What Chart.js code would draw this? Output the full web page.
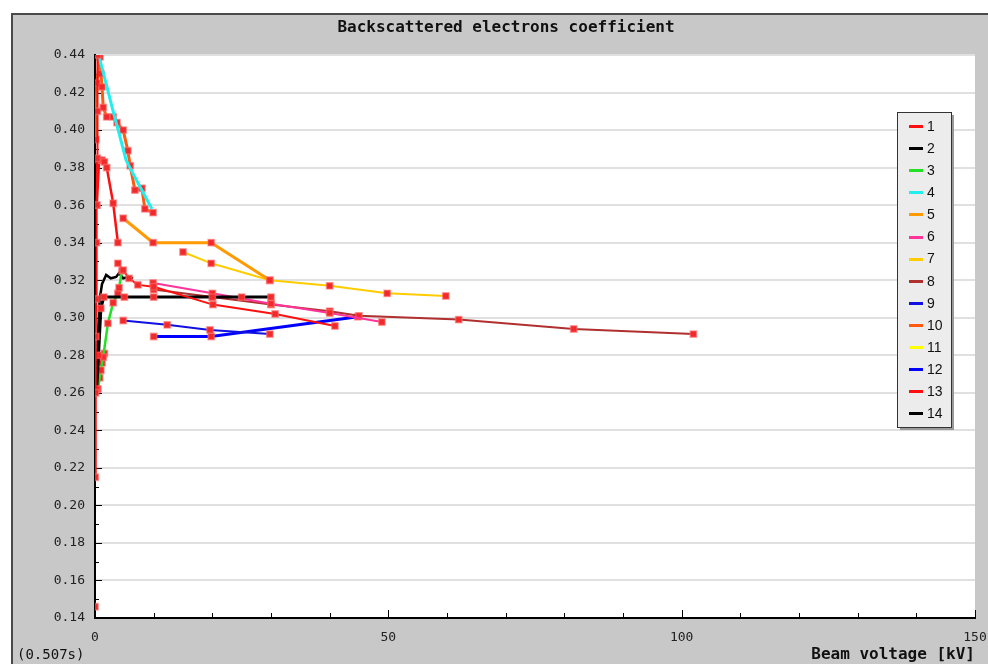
<!DOCTYPE html>
<html>
<head>
<meta charset="utf-8">
<script src="https://cdn.jsdelivr.net/npm/chart.js@4.4.0/dist/chart.umd.min.js"></script>
<style>
  html, body { margin: 0; padding: 0; background: #fff; }
  #wrap { width: 988px; height: 664px; }
</style>
</head>
<body>
<div id="wrap"><canvas id="c" width="988" height="664"></canvas></div>
<script>
// ---- data (beam voltage kV, backscatter coefficient) ----
const seriesNames = ['1','2','3','4','5','6','7','8','9','10','11','12','13','14'];
const yTicks = [0.14,0.16,0.18,0.20,0.22,0.24,0.26,0.28,0.30,0.32,0.34,0.36,0.38,0.40,0.42,0.44];
const xTicks = [0, 50, 100, 150];

const kv1  = [0, null, 0.05, 0.1, 0.15, 0.2, 0.25, 0.3, 0.35, 0.4, 0.45, null, 3.9, 4.8, 5.8, 7.3, 10, 20.1, 30.7, 40.9];
const eta1 = [0.146, null, 0.215, 0.26, 0.29, 0.31, 0.34, 0.36, 0.385, 0.41, 0.44, null, 0.329, 0.3254, 0.321, 0.3175, 0.3165, 0.307, 0.302, 0.2956];
const kv2  = [0.3, 0.6, 1.0, 1.5, 5, 10, 20, 25, 30];
const eta2 = [0.262, 0.28, 0.305, 0.311, 0.311, 0.311, 0.311, 0.311, 0.311];
const kv3  = [0.5, 1.0, 1.4, 2.2, 3.1, 3.9, 4.1, 4.6];
const eta3 = [0.262, 0.272, 0.279, 0.297, 0.308, 0.313, 0.316, 0.325];
const kv4  = [0.7, 2, 3, 4, 5.3, 7, 8.5, 9.7];
const eta4 = [0.439, 0.4235, 0.411, 0.3995, 0.384, 0.3737, 0.365, 0.358];
const kv5  = [4.8, 9.9, 19.8, 29.8];
const eta5 = [0.353, 0.34, 0.34, 0.32];
const kv6  = [9.9, 20, 30, 40, 48.9];
const eta6 = [0.3185, 0.313, 0.3075, 0.3025, 0.2977];
const kv7  = [15, 19.8, 29.8, 40, 49.8, 59.8];
const eta7 = [0.335, 0.329, 0.320, 0.317, 0.313, 0.3116];
const kv8  = [10, 20, 30, 40, 45, 62, 81.6, 102];
const eta8 = [0.315, 0.311, 0.307, 0.3035, 0.301, 0.299, 0.294, 0.2913];
const kv9  = [4.8, 12.3, 19.6, 29.8];
const eta9 = [0.2985, 0.2962, 0.2935, 0.2913];
const kv10  = [0.15, 0.3, 0.85, 1.0, 1.2, 1.4, 2.0, 3.1, 3.75, 4.8, 5.6, 6.0, 6.8, 8.0, 8.5, 9.9];
const eta10 = [0.395, 0.425, 0.439, 0.43, 0.423, 0.412, 0.407, 0.407, 0.404, 0.40, 0.389, 0.381, 0.368, 0.369, 0.358, 0.356];
const kv11  = [0.4, 0.8, 1.2, 1.6];
const eta11 = [0.27, 0.268, 0.276, 0.281];
const kv12  = [10, 19.8, 44.8];
const eta12 = [0.29, 0.29, 0.3005];
const kv13  = [0.3, 0.7, 1.2, 1.6, 2.0, 3.1, 3.9];
const eta13 = [0.36, 0.384, 0.384, 0.383, 0.38, 0.361, 0.34];
const kv14  = [0.2, 0.5, 0.8, 1.2, 1.9, 2.7, 3.6, 4.1, 4.8, 5.8, 6.5];
const eta14 = [0.262, 0.29, 0.31, 0.318, 0.3228, 0.321, 0.3217, 0.3238, 0.321, 0.3217, 0.321];

const allKv  = [kv1, kv2, kv3, kv4, kv5, kv6, kv7, kv8, kv9, kv10, kv11, kv12, kv13, kv14];
const allEta = [eta1, eta2, eta3, eta4, eta5, eta6, eta7, eta8, eta9, eta10, eta11, eta12, eta13, eta14];

// ---- styles ----
const colors = ['#ff1010','#000000','#22e022','#22eeee','#ff9a00','#ff3399','#ffcc00','#b03030','#1010e0','#ff5a10','#ffff00','#0000ff','#ff1010','#000000'];
const widths = [2, 3, 2.5, 3, 3, 2, 2, 2, 2, 3, 2.5, 3, 2.5, 2.5];
const markers = [true, true, true, false, true, true, true, true, true, true, true, true, true, false];

const pts = (xs, ys) => xs.map((x, i) => ({ x: x, y: ys[i] }));

const datasets = seriesNames.map((n, i) => ({
  label: n,
  data: pts(allKv[i], allEta[i]),
  showLine: true,
  spanGaps: false,
  borderColor: colors[i],
  borderWidth: widths[i],
  tension: 0,
  pointStyle: 'rect',
  pointRadius: markers[i] ? 4.5 : 0,
  pointHoverRadius: markers[i] ? 4.5 : 0,
  pointBackgroundColor: '#f02a2a',
  pointBorderColor: 'rgba(255,110,110,0.55)',
  pointBorderWidth: 1.5
}));

const MONO = '"DejaVu Sans Mono", "Liberation Mono", monospace';

const decor = {
  id: 'decor',
  beforeDraw(chart) {
    const ctx = chart.ctx, a = chart.chartArea;
    ctx.save();
    ctx.fillStyle = '#ffffff';
    ctx.fillRect(0, 0, chart.width, chart.height);
    ctx.fillStyle = '#c8c8c8';
    ctx.fillRect(12, 14, chart.width, chart.height);
    ctx.strokeStyle = '#4a4a4a';
    ctx.lineWidth = 2;
    ctx.beginPath();
    ctx.moveTo(12, chart.height); ctx.lineTo(12, 14); ctx.lineTo(chart.width, 14);
    ctx.stroke();
    ctx.fillStyle = '#ffffff';
    ctx.fillRect(a.left, a.top, a.right - a.left, a.bottom - a.top);
    ctx.restore();
  },
  beforeDatasetsDraw(chart) {
    const ctx = chart.ctx, a = chart.chartArea;
    const xs = chart.scales.x, ys = chart.scales.y;
    ctx.save();
    ctx.strokeStyle = '#000';
    ctx.lineWidth = 1;
    ctx.beginPath();
    for (let v = 14; v <= 44; v++) {
      const y = Math.round(ys.getPixelForValue(v / 100)) + 0.5;
      const len = (v % 2 === 0) ? 7 : 4;
      ctx.moveTo(a.left, y); ctx.lineTo(a.left + len, y);
    }
    for (let k = 0; k <= 150; k += 10) {
      const x = Math.round(xs.getPixelForValue(k)) + 0.5;
      const len = (k % 50 === 0) ? 8 : 5;
      ctx.moveTo(x, a.bottom); ctx.lineTo(x, a.bottom - len);
    }
    ctx.stroke();
    ctx.restore();
  },
  afterDraw(chart) {
    const ctx = chart.ctx;
    ctx.save();
    // title
    ctx.fillStyle = '#111';
    ctx.font = 'bold 16px ' + MONO;
    ctx.textAlign = 'center';
    ctx.textBaseline = 'middle';
    ctx.fillText('Backscattered electrons coefficient', 506, 28);
    // timing
    ctx.font = '14px ' + MONO;
    ctx.textAlign = 'left';
    ctx.fillText('(0.507s)', 17, 655);
    // legend
    const lx = 897, ly = 112, lw = 54, lh = 315;
    ctx.fillStyle = '#9a9a9a';
    ctx.fillRect(lx + 3, ly + 3, lw, lh);
    ctx.fillStyle = '#ececec';
    ctx.fillRect(lx, ly, lw, lh);
    ctx.strokeStyle = '#333';
    ctx.lineWidth = 1;
    ctx.strokeRect(lx + 0.5, ly + 0.5, lw, lh);
    ctx.font = '14px "Liberation Sans", Arial, sans-serif';
    ctx.textBaseline = 'middle';
    chart.data.datasets.forEach((ds, i) => {
      const y = 126 + i * 22.1;
      ctx.strokeStyle = ds.borderColor;
      ctx.lineWidth = 3;
      ctx.beginPath();
      ctx.moveTo(909, Math.round(y) + 0.5); ctx.lineTo(923, Math.round(y) + 0.5);
      ctx.stroke();
      ctx.fillStyle = '#111';
      ctx.fillText(ds.label, 927, y + 1);
    });
    ctx.restore();
  }
};

new Chart(document.getElementById('c'), {
  type: 'scatter',
  data: { datasets },
  options: {
    responsive: false,
    devicePixelRatio: 1,
    animation: false,
    layout: { padding: { left: 0, top: 55, right: 13, bottom: 0 } },
    plugins: { legend: { display: false }, title: { display: false }, tooltip: { enabled: false } },
    scales: {
      x: {
        type: 'linear', min: 0, max: 150,
        afterFit(s) { s.height = 46; s.paddingLeft = 0; s.paddingRight = 0; },
        afterBuildTicks(s) { s.ticks = xTicks.map(v => ({ value: v })); },
        grid: { drawOnChartArea: false, drawTicks: false },
        border: { display: true, color: '#000', width: 2 },
        ticks: { color: '#222', font: { family: MONO, size: 13 }, padding: 12, maxRotation: 0, autoSkip: false },
        title: { display: true, text: 'Beam voltage [kV]', align: 'end', color: '#111',
                 font: { family: MONO, size: 16, weight: 'bold' }, padding: { top: 0, bottom: 0 } }
      },
      y: {
        type: 'linear', min: 0.14, max: 0.44,
        afterFit(s) { s.width = 95; s.paddingTop = 0; s.paddingBottom = 0; },
        afterBuildTicks(s) { s.ticks = yTicks.map(v => ({ value: v })); },
        grid: { color: '#e0e0e0', lineWidth: 2, drawTicks: false },
        border: { display: true, color: '#000', width: 2 },
        ticks: { color: '#222', font: { family: MONO, size: 13 }, padding: 10, autoSkip: false,
                 callback: v => Number(v).toFixed(2) }
      }
    }
  },
  plugins: [decor]
});
</script>
</body>
</html>
